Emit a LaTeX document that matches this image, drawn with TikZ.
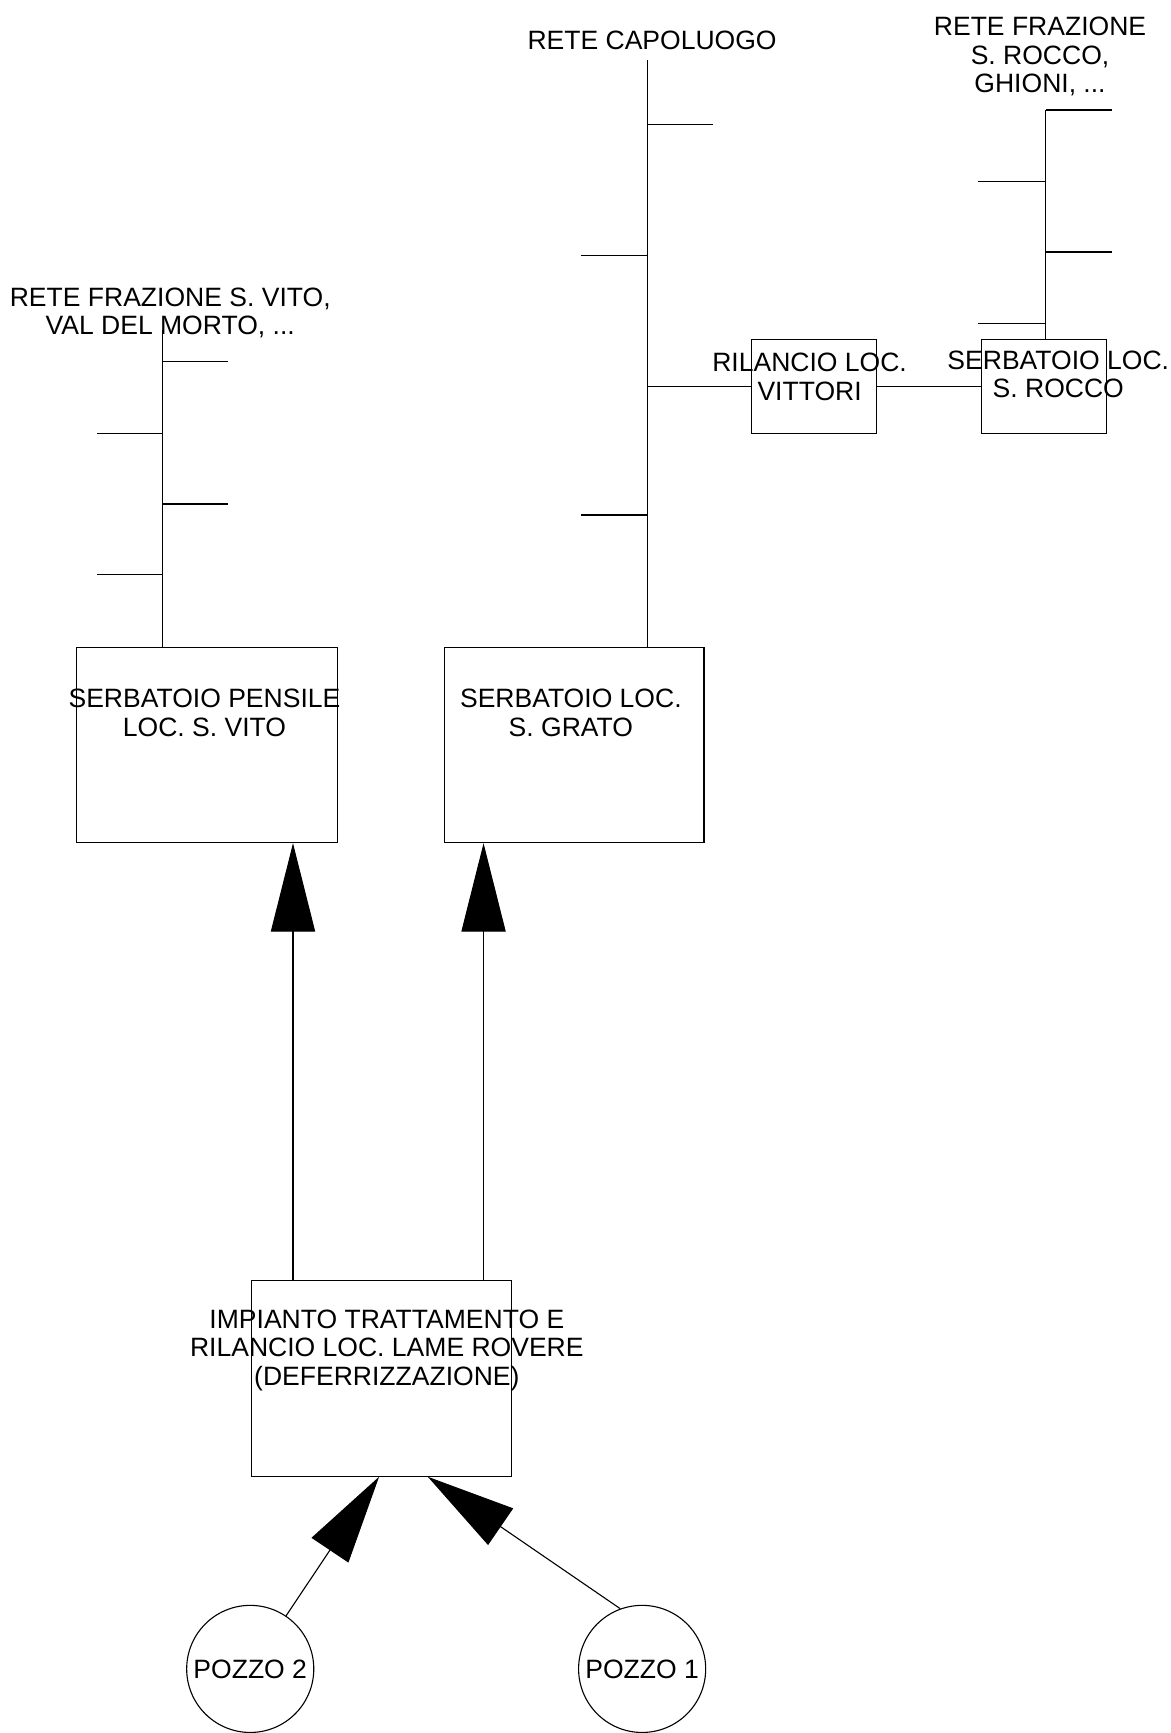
\documentclass[tikz,border=0pt]{standalone}
\usepackage{fontspec}
\setmainfont{Liberation Sans}
\usetikzlibrary{arrows.meta,calc}
\begin{document}
\begin{tikzpicture}[x=0.5pt,y=-0.5pt,
  ln/.style={line width=0.5pt, black},
  arr/.style={ln, -{Triangle[length=40pt,width=20pt]}},
  boxst/.style={draw, line width=0.5pt, rectangle, inner sep=0pt},
  lab/.style={font=\fontsize{12pt}{13pt}\selectfont, inner sep=0pt, align=center, anchor=base},
  wellst/.style={draw, line width=0.5pt, circle, minimum size=57.5pt, inner sep=0pt, font=\fontsize{12pt}{13pt}\selectfont}]
\useasboundingbox (0,0) rectangle (1059,1568);
% boxes
\node[boxst, minimum width=117.75pt, minimum height=88.4pt] (vito) at (187.3,674) {};
\node[boxst, minimum width=117.5pt, minimum height=88.4pt] (grato) at (519.5,674) {};
\node[boxst, minimum width=117.5pt, minimum height=88.5pt] (imp) at (345.1,1247.1) {};
\node[boxst, minimum width=56.5pt, minimum height=42.5pt] (vitt) at (736.5,349.5) {};
\node[boxst, minimum width=56.5pt, minimum height=42.5pt] (rocco) at (944.5,349.5) {};
\node[wellst] (p2) at (226.4,1510) {POZZO 2};
\node[wellst] (p1) at (581,1510) {POZZO 1};
% labels (anchor=base is the baseline of the last line)
\node[lab] (tcap) at (590,45) {RETE CAPOLUOGO};
\node[lab] (troc) at (941,84) {RETE FRAZIONE\\S. ROCCO,\\GHIONI, ...};
\node[lab] (tvit) at (154,303) {RETE FRAZIONE S. VITO,\\VAL DEL MORTO, ...};
\node[lab] (tvitt) at (732.5,362) {RILANCIO LOC.\\VITTORI};
\node[lab] (troc2) at (957.5,360) {SERBATOIO LOC.\\S. ROCCO};
\node[lab] (tvito) at (185,666) {SERBATOIO PENSILE\\LOC. S. VITO};
\node[lab] (tgrato) at (516.5,666) {SERBATOIO LOC.\\S. GRATO};
\node[lab] (timp) at (350,1253.6) {IMPIANTO TRATTAMENTO E\\RILANCIO LOC. LAME ROVERE\\(DEFERRIZZAZIONE)};
% capoluogo network
\coordinate (capt) at (586,54.6);
\draw[ln] (capt) -- (capt |- grato.north);
\coordinate (cb1) at (645,113);
\coordinate (cb2) at (526,231);
\coordinate (cb3) at (526,466);
\draw[ln] (cb1) -- (cb1 -| capt);
\draw[ln] (cb2) -- (cb2 -| capt);
\draw[ln] (cb3) -- (cb3 -| capt);
\draw[ln] (vitt.west) -- (vitt.west -| capt);
\draw[ln] (vitt.east) -- (rocco.west);
% s. rocco network
\coordinate (rt) at (946,99.5);
\draw[ln] (rt) -- (rt |- rocco.north);
\coordinate (rb1) at (1006,99.5);
\coordinate (rb2) at (885,164);
\coordinate (rb3) at (1006,228);
\coordinate (rb4) at (885,293);
\draw[ln] (rb1) -- (rb1 -| rt);
\draw[ln] (rb2) -- (rb2 -| rt);
\draw[ln] (rb3) -- (rb3 -| rt);
\draw[ln] (rb4) -- (rb4 -| rt);
% s. vito network
\coordinate (vt) at (147.4,299);
\draw[ln] (vt) -- (vt |- vito.north);
\coordinate (vb1) at (206,327);
\coordinate (vb2) at (88,392);
\coordinate (vb3) at (206,456);
\coordinate (vb4) at (88,520);
\draw[ln] (vb1) -- (vb1 -| vt);
\draw[ln] (vb2) -- (vb2 -| vt);
\draw[ln] (vb3) -- (vb3 -| vt);
\draw[ln] (vb4) -- (vb4 -| vt);
% arrows
\coordinate (a1) at ([xshift=19pt]imp.north west);
\coordinate (a2) at ([xshift=105.2pt]imp.north west);
\draw[arr] (a1) -- (a1 |- vito.south);
\draw[arr] (a2) -- (a2 |- grato.south);
\draw[arr] (p2.56) -- ([xshift=-1.05pt]imp.south);
\draw[arr] (p1.110) -- ([xshift=20.95pt]imp.south);
\end{tikzpicture}
\end{document}
